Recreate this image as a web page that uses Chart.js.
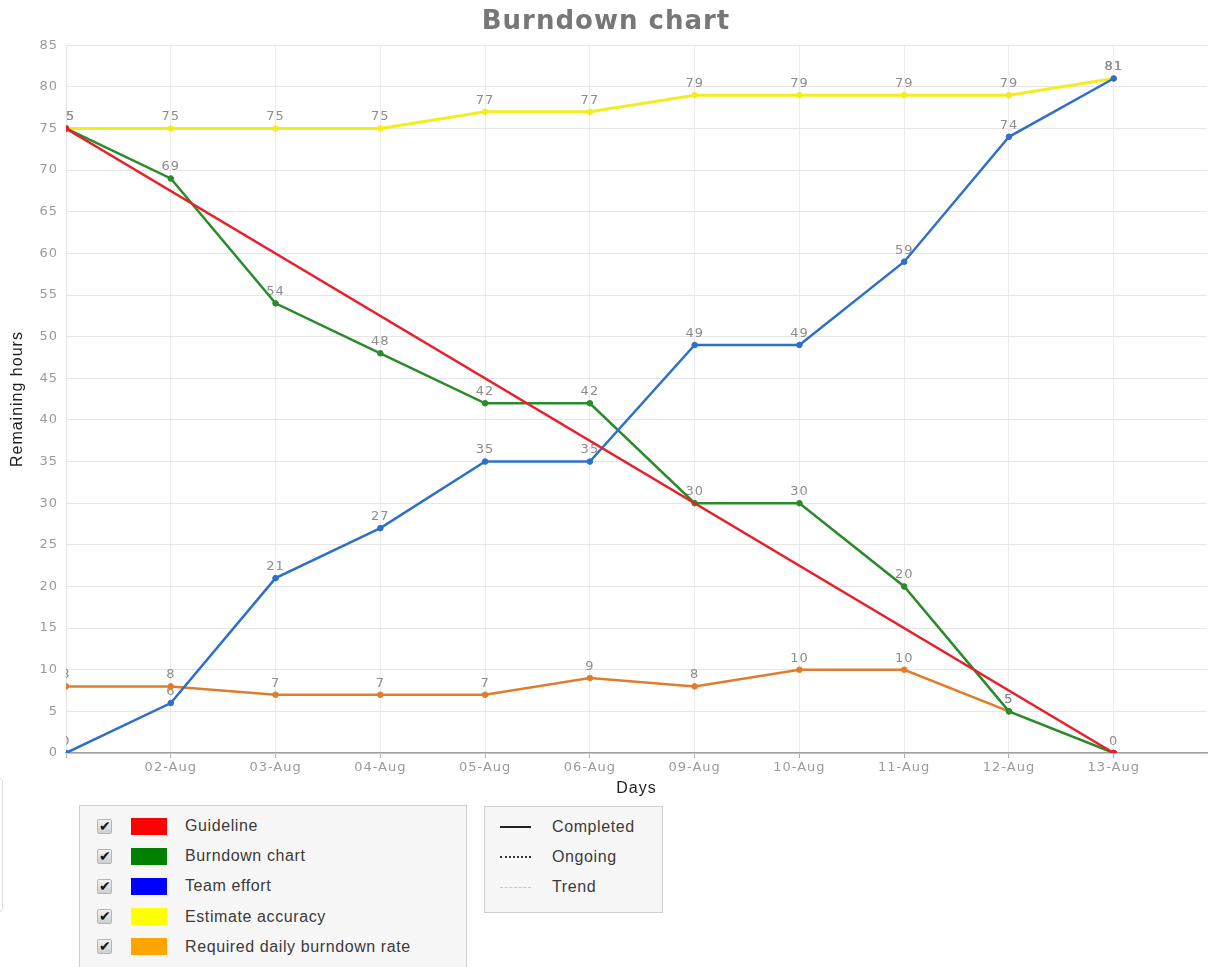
<!DOCTYPE html>
<html>
<head>
<meta charset="utf-8">
<title>Burndown chart</title>
<script src="https://cdn.jsdelivr.net/npm/chart.js@4/dist/chart.umd.min.js"></script>
<style>
  html, body { margin: 0; padding: 0; background: #fff; overflow: hidden; }
  body { width: 1212px; height: 967px; position: relative; font-family: "Liberation Sans", Arial, sans-serif; }
  #wrap { position: absolute; left: 0; top: 0; width: 1212px; height: 800px; }
  .legend-box { position: absolute; background: #f7f7f7; border: 1px solid #cfcfcf; box-sizing: border-box; }
  #seriesLegend { left: 79px; top: 805px; width: 388px; height: 180px; }
  #styleLegend { left: 484px; top: 806px; width: 179px; height: 107px; }
  #sideBox { position: absolute; left: -100px; top: 777px; width: 103px; height: 136px; border: 1px solid #dcdcdc; border-radius: 5px; box-sizing: border-box; }
  .row { position: absolute; left: 0; height: 20px; display: flex; align-items: center; font-size: 16px; color: #3a3a3a; letter-spacing: 0.6px; white-space: nowrap; }
  .check { position: absolute; left: 17px; width: 15px; height: 15px; border: 1px solid #b5b5b5; border-radius: 2px; background: linear-gradient(#f2f2f2, #cfcfcf); box-sizing: border-box; font-size: 14px; line-height: 13px; text-align: center; color: #111; letter-spacing: 0; }
  .swatch { position: absolute; left: 51px; width: 36px; height: 17px; }
  .name { position: absolute; left: 105px; }
  .sample { position: absolute; left: 15px; width: 31px; height: 0; }
  .sname { position: absolute; left: 67px; }
</style>
</head>
<body>
<div id="wrap"><canvas id="chart" width="1212" height="800"></canvas></div>
<div id="sideBox"></div>
<div id="seriesLegend" class="legend-box"></div>
<div id="styleLegend" class="legend-box"></div>
<script>
// Sprint days (working days only)
const dayLabels = ['01-Aug', '02-Aug', '03-Aug', '04-Aug', '05-Aug', '06-Aug', '09-Aug', '10-Aug', '11-Aug', '12-Aug', '13-Aug'];

// Remaining / spent hours per day
const guideline        = [75, null, null, null, null, null, null, null, null, null, 0];
const burndown         = [75, 69, 54, 48, 42, 42, 30, 30, 20, 5, 0];
const teamEffort       = [0, 6, 21, 27, 35, 35, 49, 49, 59, 74, 81];
const estimateAccuracy = [75, 75, 75, 75, 77, 77, 79, 79, 79, 79, 81];
const dailyRate        = [8, 8, 7, 7, 7, 9, 8, 10, 10, 5];

const seriesNames  = ['Guideline', 'Burndown chart', 'Team effort', 'Estimate accuracy', 'Required daily burndown rate'];
const swatchColors = ['#ff0000', '#008000', '#0000ff', '#ffff00', '#ffa500'];
const lineColors   = ['#e8202c', '#2b8a2b', '#2f6fcc', '#f3ec1e', '#df7d2c'];

const styleNames = ['Completed', 'Ongoing', 'Trend'];

const yMax = 85;
const yStep = 5;

const toPoints = arr => arr.map((v, i) => ({ x: i, y: v }));

function lineDataset(idx, values, extra) {
  return Object.assign({
    label: seriesNames[idx],
    data: toPoints(values),
    borderColor: lineColors[idx],
    backgroundColor: lineColors[idx],
    pointBackgroundColor: lineColors[idx],
    pointBorderColor: lineColors[idx],
    pointRadius: 2.8,
    pointBorderWidth: 1,
    borderWidth: 2.5,
    tension: 0,
    fill: false
  }, extra || {});
}

const datasets = [
  lineDataset(0, guideline, { spanGaps: true, order: 0, showValues: false }),
  lineDataset(2, teamEffort, { order: 1, showValues: true }),
  lineDataset(1, burndown, { order: 2, showValues: true }),
  lineDataset(4, dailyRate, { order: 3, showValues: true }),
  lineDataset(3, estimateAccuracy, { order: 4, borderWidth: 3, showValues: true })
];

// Value labels above each point, kept inside the plot area and painted under the lines
const valueLabels = {
  id: 'valueLabels',
  beforeDatasetsDraw(chart) {
    const { ctx, chartArea } = chart;
    ctx.save();
    ctx.beginPath();
    ctx.rect(chartArea.left, chartArea.top, chartArea.right - chartArea.left, chartArea.bottom - chartArea.top);
    ctx.clip();
    ctx.font = '13px "DejaVu Sans", sans-serif';
    ctx.fillStyle = '#8d8d8d';
    ctx.textAlign = 'center';
    ctx.textBaseline = 'bottom';
    chart.data.datasets.forEach((ds, di) => {
      if (!ds.showValues) return;
      const meta = chart.getDatasetMeta(di);
      meta.data.forEach((pt, i) => {
        const v = ds.data[i].y;
        if (v === null || v === undefined) return;
        ctx.fillText(String(v), pt.x, pt.y - 5);
      });
    });
    ctx.restore();
  }
};

// Slightly widened lettering on the canvas text
const letterSpacing = {
  id: 'letterSpacing',
  beforeUpdate(chart) { chart.ctx.letterSpacing = '1px'; },
  beforeDraw(chart) { chart.ctx.letterSpacing = '1px'; }
};

new Chart(document.getElementById('chart'), {
  type: 'line',
  data: { datasets },
  plugins: [letterSpacing, valueLabels],
  options: {
    responsive: false,
    animation: false,
    layout: { padding: 0 },
    plugins: {
      legend: { display: false },
      tooltip: { enabled: false },
      title: {
        display: true,
        text: 'Burndown chart',
        color: '#777777',
        font: { family: '"DejaVu Sans", sans-serif', size: 26, weight: 'bold', lineHeight: 1.2 },
        padding: { top: 7, bottom: 7 }
      }
    },
    scales: {
      x: {
        type: 'linear',
        min: 0,
        max: 10.89,
        afterBuildTicks(scale) {
          scale.ticks = dayLabels.map((_, i) => ({ value: i }));
        },
        afterFit(scale) { scale.height = 47; },
        ticks: {
          autoSkip: false,
          maxRotation: 0,
          padding: 2,
          color: '#9a9a9a',
          font: { family: '"DejaVu Sans", sans-serif', size: 13 },
          callback: v => (v === 0 ? '' : dayLabels[v])
        },
        grid: { color: '#ebebeb', tickColor: '#b0b0b0', tickLength: 5, lineWidth: 1 },
        border: { color: '#9f9f9f', width: 1.5 },
        title: {
          display: true,
          text: 'Days',
          color: '#1e1e1e',
          font: { family: '"Liberation Sans", Arial, sans-serif', size: 16 },
          padding: { top: 0, bottom: 2 }
        }
      },
      y: {
        min: 0,
        max: yMax,
        afterFit(scale) { scale.width = 66; },
        ticks: {
          stepSize: yStep,
          padding: 8,
          color: '#9a9a9a',
          font: { family: '"DejaVu Sans", sans-serif', size: 13 }
        },
        grid: { color: '#e6e6e6', drawTicks: false, lineWidth: 1 },
        border: { color: '#e2e2e2', width: 1 },
        title: {
          display: true,
          text: 'Remaining hours',
          color: '#1e1e1e',
          font: { family: '"Liberation Sans", Arial, sans-serif', size: 16 },
          padding: { top: 8, bottom: 0 }
        }
      }
    }
  }
});

// Series legend with check boxes
const seriesLegend = document.getElementById('seriesLegend');
seriesNames.forEach((name, i) => {
  const row = document.createElement('div');
  row.className = 'row';
  row.style.top = (10 + i * 30.2) + 'px';
  row.style.width = '380px';
  row.innerHTML = '<span class="check">✔</span><span class="swatch" style="background:' + swatchColors[i] + '"></span><span class="name">' + name + '</span>';
  seriesLegend.appendChild(row);
});

// Line-style legend
const styleLegend = document.getElementById('styleLegend');
const sampleBorders = ['2px solid #222', '2px dotted #333', '1px dashed #c8c8c8'];
styleNames.forEach((name, i) => {
  const row = document.createElement('div');
  row.className = 'row';
  row.style.top = (10 + i * 30) + 'px';
  row.style.width = '170px';
  row.innerHTML = '<span class="sample" style="border-top:' + sampleBorders[i] + '"></span><span class="sname">' + name + '</span>';
  styleLegend.appendChild(row);
});
</script>
</body>
</html>
